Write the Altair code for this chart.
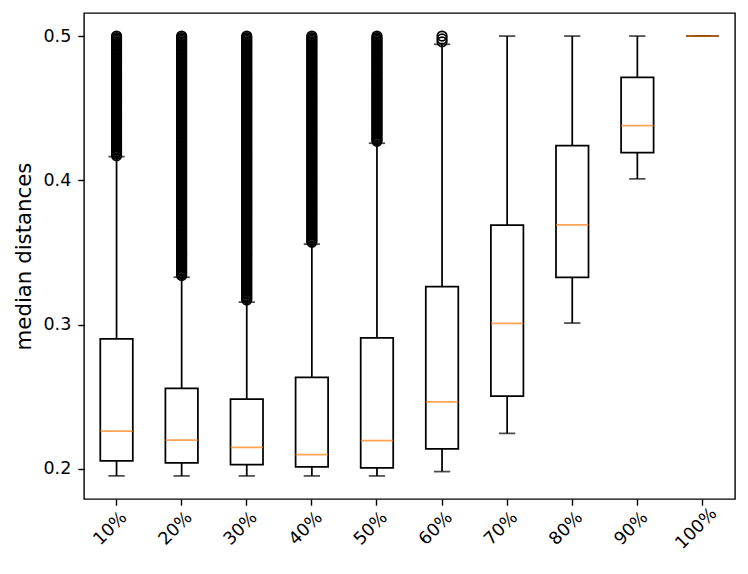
import altair as alt
import pandas as pd

categories = ["10%", "20%", "30%", "40%", "50%", "60%", "70%", "80%", "90%", "100%"]
whisker_low = [0.195, 0.195, 0.195, 0.195, 0.195, 0.198, 0.2245, 0.301, 0.401, 0.5]
q1 = [0.2055, 0.204, 0.2028, 0.2012, 0.2005, 0.2137, 0.2504, 0.3326, 0.4192, 0.5]
median = [0.226, 0.2199, 0.2148, 0.2097, 0.2194, 0.2464, 0.3007, 0.369, 0.4379, 0.5]
q3 = [0.290, 0.2557, 0.2483, 0.2633, 0.2908, 0.3263, 0.3689, 0.424, 0.4714, 0.5]
whisker_high = [0.4164, 0.3328, 0.3155, 0.3557, 0.4257, 0.4943, 0.5, 0.5, 0.5, 0.5]

# outliers (in thousandths)
out_10 = [417, 418, 419, 420, 421, 422, 423, 424, 425, 426, 427, 428, 429, 430, 431, 432,
          433, 434, 435, 436, 437, 438, 439, 440, 441, 442, 443, 444, 445, 446, 447, 448,
          449, 450, 451, 452, 453, 454, 455, 456, 457, 458, 459, 460, 461, 462, 463, 464,
          465, 466, 467, 468, 469, 470, 471, 472, 473, 474, 475, 476, 477, 478, 479, 480,
          481, 482, 483, 484, 485, 486, 487, 488, 489, 490, 491, 492, 493, 494, 495, 496,
          497, 498, 499, 500]
out_20 = [334, 335, 336, 337, 338, 339, 340, 341, 342, 343, 344, 345, 346, 347, 348, 349,
          350, 351, 352, 353, 354, 355, 356, 357, 358, 359, 360, 361, 362, 363, 364, 365,
          366, 367, 368, 369, 370, 371, 372, 373, 374, 375, 376, 377, 378, 379, 380, 381,
          382, 383, 384, 385, 386, 387, 388, 389, 390, 391, 392, 393, 394, 395, 396, 397,
          398, 399, 400, 401, 402, 403, 404, 405, 406, 407, 408, 409, 410, 411, 412, 413,
          414, 415, 416, 417, 418, 419, 420, 421, 422, 423, 424, 425, 426, 427, 428, 429,
          430, 431, 432, 433, 434, 435, 436, 437, 438, 439, 440, 441, 442, 443, 444, 445,
          446, 447, 448, 449, 450, 451, 452, 453, 454, 455, 456, 457, 458, 459, 460, 461,
          462, 463, 464, 465, 466, 467, 468, 469, 470, 471, 472, 473, 474, 475, 476, 477,
          478, 479, 480, 481, 482, 483, 484, 485, 486, 487, 488, 489, 490, 491, 492, 493,
          494, 495, 496, 497, 498, 499, 500]
out_30 = [317, 318, 319, 320, 321, 322, 323, 324, 325, 326, 327, 328, 329, 330, 331, 332,
          333, 334, 335, 336, 337, 338, 339, 340, 341, 342, 343, 344, 345, 346, 347, 348,
          349, 350, 351, 352, 353, 354, 355, 356, 357, 358, 359, 360, 361, 362, 363, 364,
          365, 366, 367, 368, 369, 370, 371, 372, 373, 374, 375, 376, 377, 378, 379, 380,
          381, 382, 383, 384, 385, 386, 387, 388, 389, 390, 391, 392, 393, 394, 395, 396,
          397, 398, 399, 400, 401, 402, 403, 404, 405, 406, 407, 408, 409, 410, 411, 412,
          413, 414, 415, 416, 417, 418, 419, 420, 421, 422, 423, 424, 425, 426, 427, 428,
          429, 430, 431, 432, 433, 434, 435, 436, 437, 438, 439, 440, 441, 442, 443, 444,
          445, 446, 447, 448, 449, 450, 451, 452, 453, 454, 455, 456, 457, 458, 459, 460,
          461, 462, 463, 464, 465, 466, 467, 468, 469, 470, 471, 472, 473, 474, 475, 476,
          477, 478, 479, 480, 481, 482, 483, 484, 485, 486, 487, 488, 489, 490, 491, 492,
          493, 494, 495, 496, 497, 498, 499, 500]
out_40 = [357, 358, 359, 360, 361, 362, 363, 364, 365, 366, 367, 368, 369, 370, 371, 372,
          373, 374, 375, 376, 377, 378, 379, 380, 381, 382, 383, 384, 385, 386, 387, 388,
          389, 390, 391, 392, 393, 394, 395, 396, 397, 398, 399, 400, 401, 402, 403, 404,
          405, 406, 407, 408, 409, 410, 411, 412, 413, 414, 415, 416, 417, 418, 419, 420,
          421, 422, 423, 424, 425, 426, 427, 428, 429, 430, 431, 432, 433, 434, 435, 436,
          437, 438, 439, 440, 441, 442, 443, 444, 445, 446, 447, 448, 449, 450, 451, 452,
          453, 454, 455, 456, 457, 458, 459, 460, 461, 462, 463, 464, 465, 466, 467, 468,
          469, 470, 471, 472, 473, 474, 475, 476, 477, 478, 479, 480, 481, 482, 483, 484,
          485, 486, 487, 488, 489, 490, 491, 492, 493, 494, 495, 496, 497, 498, 499, 500]
out_50 = [427, 428, 429, 430, 431, 432, 433, 434, 435, 436, 437, 438, 439, 440, 441, 442,
          443, 444, 445, 446, 447, 448, 449, 450, 451, 452, 453, 454, 455, 456, 457, 458,
          459, 460, 461, 462, 463, 464, 465, 466, 467, 468, 469, 470, 471, 472, 473, 474,
          475, 476, 477, 478, 479, 480, 481, 482, 483, 484, 485, 486, 487, 488, 489, 490,
          491, 492, 493, 494, 495, 496, 497, 498, 499, 500]
out_60 = [496, 498, 500]
outliers = [out_10, out_20, out_30, out_40, out_50, out_60, [], [], [], []]

box_df = pd.DataFrame({
    "cat": categories,
    "low": whisker_low,
    "q1": q1,
    "median": median,
    "q3": q3,
    "high": whisker_high,
})
out_df = pd.DataFrame(
    [{"cat": c, "value": v / 1000} for c, vals in zip(categories, outliers) for v in vals]
)

FONT = "DejaVu Sans"
LW = 1.75
FRAME = 1.4

x_enc = alt.X(
    "cat:N",
    sort=categories,
    title=None,
    scale=alt.Scale(domain=categories, paddingInner=0, paddingOuter=0),
    axis=alt.Axis(
        labelAngle=-45,
        labelAlign="center",
        labelBaseline="middle",
        labelPadding=23,
        labelOffset=-6,
        labelFontSize=17.5,
        labelFont=FONT,
        labelColor="black",
        tickSize=6.2,
        tickColor="black",
        tickWidth=FRAME,
        domain=False,
        grid=False,
    ),
)
yscale = alt.Scale(domain=[0.179, 0.516], nice=False, zero=False)
y_axis = alt.Axis(
    values=[0.2, 0.3, 0.4, 0.5],
    format=".1f",
    labelFontSize=17.5,
    labelFont=FONT,
    labelColor="black",
    labelPadding=7,
    tickSize=6.2,
    tickColor="black",
    tickWidth=FRAME,
    domain=False,
    grid=False,
    title="median distances",
    titleFont=FONT,
    titleFontSize=21.3,
    titleFontWeight="normal",
    titleColor="black",
    titlePadding=8,
)

base = alt.Chart(box_df)

box = base.mark_bar(size=32.5, fill="white", stroke="black", strokeWidth=LW).encode(
    x=x_enc,
    y=alt.Y("q1:Q", scale=yscale, axis=y_axis),
    y2="q3:Q",
)
lower = base.mark_rule(color="black", strokeWidth=LW).encode(
    x=x_enc, y=alt.Y("low:Q", scale=yscale), y2="q1:Q"
)
upper = base.mark_rule(color="black", strokeWidth=LW).encode(
    x=x_enc, y=alt.Y("q3:Q", scale=yscale), y2="high:Q"
)
cap_low = base.mark_tick(orient="horizontal", size=16.3, thickness=LW, color="black").encode(
    x=x_enc, y=alt.Y("low:Q", scale=yscale)
)
cap_high = base.mark_tick(orient="horizontal", size=16.3, thickness=LW, color="black").encode(
    x=x_enc, y=alt.Y("high:Q", scale=yscale)
)
med = base.mark_tick(orient="horizontal", size=32.5, thickness=LW, color="#ff7f0e").encode(
    x=x_enc, y=alt.Y("median:Q", scale=yscale)
)
fliers = alt.Chart(out_df).mark_point(
    shape="circle", filled=False, size=90, stroke="black", strokeWidth=LW, opacity=1
).encode(x=x_enc, y=alt.Y("value:Q", scale=yscale))

chart = (
    alt.layer(box, lower, upper, cap_low, cap_high, med, fliers)
    .properties(width=651, height=486, padding={"left": 5, "top": 5, "right": 5, "bottom": 5})
    .configure_view(stroke="black", strokeWidth=FRAME)
)

chart.save("out.html", embed_options={"renderer": "svg", "actions": False})
